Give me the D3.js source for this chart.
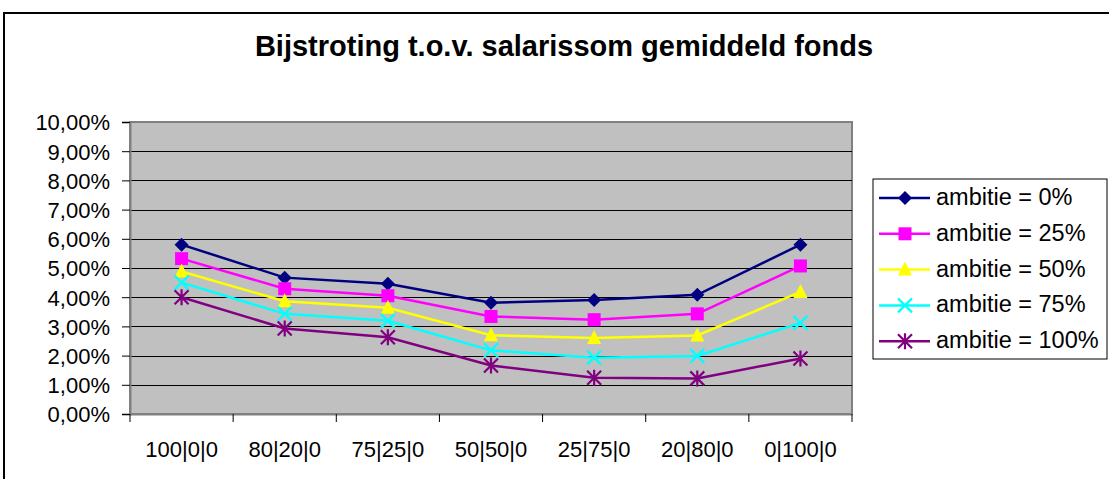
<!DOCTYPE html>
<html>
<head>
<meta charset="utf-8">
<script src="https://cdn.jsdelivr.net/npm/d3@7/dist/d3.min.js"></script>
<style>
  html, body { margin: 0; padding: 0; background: #fff; }
  svg { display: block; font-family: "Liberation Sans", Arial, sans-serif; }
</style>
</head>
<body>
<svg id="chart" width="1109" height="479"></svg>
<script>
// Verdelingen (aandelen|obligaties|overig)
const categories = ["100|0|0", "80|20|0", "75|25|0", "50|50|0", "25|75|0", "20|80|0", "0|100|0"];

// Bijstroting als percentage van de salarissom, per ambitieniveau
const ambitie0   = [5.80, 4.67, 4.46, 3.81, 3.90, 4.08, 5.80];
const ambitie25  = [5.32, 4.29, 4.05, 3.34, 3.23, 3.43, 5.07];
const ambitie50  = [4.88, 3.86, 3.64, 2.70, 2.60, 2.69, 4.18];
const ambitie75  = [4.50, 3.43, 3.19, 2.18, 1.93, 1.99, 3.12];
const ambitie100 = [4.00, 2.93, 2.63, 1.66, 1.24, 1.22, 1.90];

const seriesNames = ["ambitie = 0%", "ambitie = 25%", "ambitie = 50%", "ambitie = 75%", "ambitie = 100%"];
const yTicks = [0, 1, 2, 3, 4, 5, 6, 7, 8, 9, 10];

const series = [
  { name: seriesNames[0], values: ambitie0,   color: "#000080", marker: "diamond" },
  { name: seriesNames[1], values: ambitie25,  color: "#FF00FF", marker: "square" },
  { name: seriesNames[2], values: ambitie50,  color: "#FFFF00", marker: "triangle" },
  { name: seriesNames[3], values: ambitie75,  color: "#00FFFF", marker: "cross" },
  { name: seriesNames[4], values: ambitie100, color: "#800080", marker: "star" }
];

const FONT = "Liberation Sans, Arial, sans-serif";
const svg = d3.select("#chart");
const plot = { left: 130, top: 122, right: 852, bottom: 414 };

// Buitenrand van de grafiek
svg.append("rect")
  .attr("x", 4).attr("y", 13).attr("width", 1120).attr("height", 480)
  .attr("fill", "#fff").attr("stroke", "#000").attr("stroke-width", 2);

svg.append("text")
  .attr("x", 564).attr("y", 56)
  .attr("text-anchor", "middle")
  .attr("font-size", 29).attr("font-weight", "bold")
  .text("Bijstroting t.o.v. salarissom gemiddeld fonds");

const x = d3.scaleBand().domain(categories).range([plot.left, plot.right]);
const y = d3.scaleLinear().domain([0, 10]).range([plot.bottom, plot.top]);

// Plotgebied
svg.append("rect")
  .attr("x", plot.left).attr("y", plot.top)
  .attr("width", plot.right - plot.left).attr("height", plot.bottom - plot.top)
  .attr("fill", "#C0C0C0").attr("stroke", "#808080").attr("stroke-width", 2);

// Rasterlijnen
svg.append("g").selectAll("line")
  .data(yTicks.filter(d => d > 0 && d < 10))
  .join("line")
  .attr("x1", plot.left).attr("x2", plot.right)
  .attr("y1", d => Math.round(y(d)) + 0.5).attr("y2", d => Math.round(y(d)) + 0.5)
  .attr("stroke", "#000").attr("stroke-width", 1);

// Y-as
const yAxis = svg.append("g")
  .attr("transform", `translate(${plot.left},0)`)
  .call(d3.axisLeft(y).tickValues(yTicks).tickSize(8).tickPadding(12)
    .tickFormat(d => d3.format(".2f")(d).replace(".", ",") + "%"));
yAxis.select(".domain").attr("stroke", "#808080").attr("stroke-width", 2);
yAxis.selectAll(".tick line").attr("stroke", "#000");
yAxis.selectAll("text").attr("font-size", 22).attr("fill", "#000")
  .attr("font-family", FONT).attr("dy", "0.36em");

// X-as met streepjes op de categoriegrenzen
const xAxis = svg.append("g")
  .attr("transform", `translate(0,${plot.bottom})`)
  .call(d3.axisBottom(x).tickSize(0));
xAxis.select(".domain").attr("stroke", "#808080").attr("stroke-width", 2);
xAxis.selectAll("text").attr("font-size", 22).attr("fill", "#000")
  .attr("font-family", FONT).attr("y", 42.5).attr("dy", 0);
xAxis.selectAll("line.bound")
  .data(d3.range(categories.length + 1))
  .join("line").attr("class", "bound")
  .attr("x1", i => plot.left + i * x.step()).attr("x2", i => plot.left + i * x.step())
  .attr("y1", 0).attr("y2", 8)
  .attr("stroke", "#000");

function drawMarker(g, type, color) {
  if (type === "diamond") {
    g.append("path").attr("d", "M0,-7L7,0L0,7L-7,0Z").attr("fill", color);
  } else if (type === "square") {
    g.append("rect").attr("x", -6.5).attr("y", -6.5).attr("width", 13).attr("height", 13).attr("fill", color);
  } else if (type === "triangle") {
    g.append("path").attr("d", "M0,-8L7,6L-7,6Z").attr("fill", color);
  } else if (type === "cross") {
    g.append("path").attr("d", "M-7,-7L7,7M-7,7L7,-7").attr("stroke", color).attr("stroke-width", 2.2).attr("fill", "none");
  } else if (type === "star") {
    g.append("path").attr("d", "M-7,-7L7,7M-7,7L7,-7M0,-8L0,8").attr("stroke", color).attr("stroke-width", 2.2).attr("fill", "none");
  }
}

const line = d3.line()
  .x((d, i) => x(categories[i]) + x.bandwidth() / 2)
  .y(d => y(d));

series.forEach(s => {
  svg.append("path")
    .attr("d", line(s.values))
    .attr("fill", "none").attr("stroke", s.color).attr("stroke-width", 2.5);
});
series.forEach(s => {
  s.values.forEach((v, i) => {
    const g = svg.append("g")
      .attr("transform", `translate(${x(categories[i]) + x.bandwidth() / 2},${y(v)})`);
    drawMarker(g, s.marker, s.color);
  });
});

// Legenda
const legend = svg.append("g");
legend.append("rect")
  .attr("x", 873).attr("y", 179).attr("width", 234).attr("height", 180)
  .attr("fill", "#fff").attr("stroke", "#000").attr("stroke-width", 1);
series.forEach((s, i) => {
  const cy = 198 + i * 35.8;
  const g = legend.append("g").attr("transform", `translate(0,${cy})`);
  g.append("line").attr("x1", 879).attr("x2", 930).attr("y1", 0).attr("y2", 0)
    .attr("stroke", s.color).attr("stroke-width", 2.5);
  const m = g.append("g").attr("transform", "translate(905,0)");
  drawMarker(m, s.marker, s.color);
  g.append("text").attr("x", 936).attr("y", 7)
    .attr("font-size", 23.5).text(s.name);
});
</script>
</body>
</html>
